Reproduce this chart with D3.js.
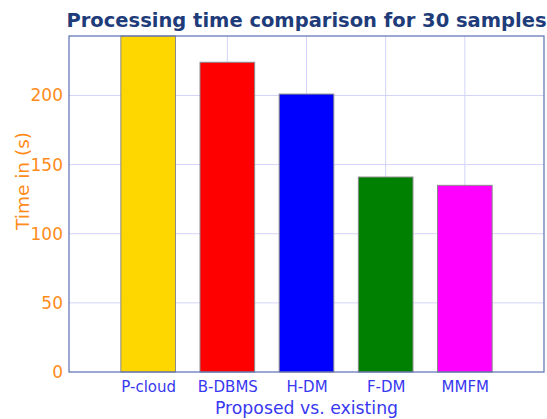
<!DOCTYPE html>
<html><head><meta charset="utf-8">
<script src="https://cdn.jsdelivr.net/npm/d3@7"></script>
<style>body{margin:0;background:#fff}svg{display:block}</style>
</head><body>
<script>
const categories = ["P-cloud", "B-DBMS", "H-DM", "F-DM", "MMFM"];
const values = [243, 224, 201, 141, 135];
const colors = ["#ffd700", "#ff0000", "#0000ff", "#008000", "#ff00ff"];
const yTicks = [0, 50, 100, 150, 200];

const W = 547, H = 419;
const m = {left: 69, right: 3, top: 36, bottom: 47};
const svg = d3.select("body").append("svg").attr("width", W).attr("height", H)
  .style("font-family", "'DejaVu Sans', Verdana, sans-serif");

const x = d3.scaleLinear().domain([0, categories.length + 1]).range([m.left, W - m.right]);
const y = d3.scaleLinear().domain([0, d3.max(values)]).range([H - m.bottom, m.top]);
const gridColor = "#d4d4fa";

// grid
svg.append("g").selectAll("line").data(yTicks.slice(1)).join("line")
  .attr("x1", m.left).attr("x2", W - m.right)
  .attr("y1", d => y(d)).attr("y2", d => y(d))
  .attr("stroke", gridColor).attr("stroke-width", 1);
svg.append("g").selectAll("line").data(d3.range(1, categories.length + 1)).join("line")
  .attr("x1", d => x(d)).attr("x2", d => x(d))
  .attr("y1", m.top).attr("y2", H - m.bottom)
  .attr("stroke", gridColor).attr("stroke-width", 1);

// bars
const bw = (x(1) - x(0)) * 0.69;
svg.append("g").selectAll("rect").data(values).join("rect")
  .attr("x", (d, i) => x(i + 1) - bw / 2)
  .attr("width", bw)
  .attr("y", d => y(d))
  .attr("height", d => y(0) - y(d))
  .attr("fill", (d, i) => colors[i])
  .attr("stroke", "#8a8a8a").attr("stroke-width", 1);

// frame
svg.append("rect").attr("x", m.left).attr("y", m.top)
  .attr("width", W - m.right - m.left).attr("height", H - m.bottom - m.top)
  .attr("fill", "none").attr("stroke", "#5b6fb3").attr("stroke-width", 1.2);

// y axis
const yAxis = d3.axisLeft(y).tickValues(yTicks).tickSize(0).tickPadding(6);
const gy = svg.append("g").attr("transform", `translate(${m.left},0)`).call(yAxis);
gy.select(".domain").remove();
gy.selectAll("text").attr("fill", "#ff8c1a").style("font-size", "17px")
  .style("font-family", "'DejaVu Sans', Verdana, sans-serif");

// x axis
const xAxis = d3.axisBottom(x).tickValues(d3.range(1, categories.length + 1))
  .tickFormat(d => categories[d - 1]).tickSize(0).tickPadding(9);
const gx = svg.append("g").attr("transform", `translate(0,${H - m.bottom})`).call(xAxis);
gx.select(".domain").remove();
gx.selectAll("text").attr("fill", "#3838f0").style("font-size", "15px")
  .style("font-family", "'DejaVu Sans', Verdana, sans-serif");

// titles
svg.append("text").attr("x", (m.left + W - m.right) / 2).attr("y", 27)
  .attr("text-anchor", "middle").attr("fill", "#1f3c7a")
  .style("font-size", "19.5px").style("font-weight", "bold")
  .text("Processing time comparison for 30 samples");
svg.append("text").attr("x", (m.left + W - m.right) / 2).attr("y", 414)
  .attr("text-anchor", "middle").attr("fill", "#3838f0").style("font-size", "17.3px")
  .text("Proposed vs. existing");
svg.append("text").attr("transform", "translate(29,181) rotate(-90)")
  .attr("text-anchor", "middle").attr("fill", "#ff8c1a").style("font-size", "18.5px")
  .text("Time in (s)");
</script>
</body></html>
